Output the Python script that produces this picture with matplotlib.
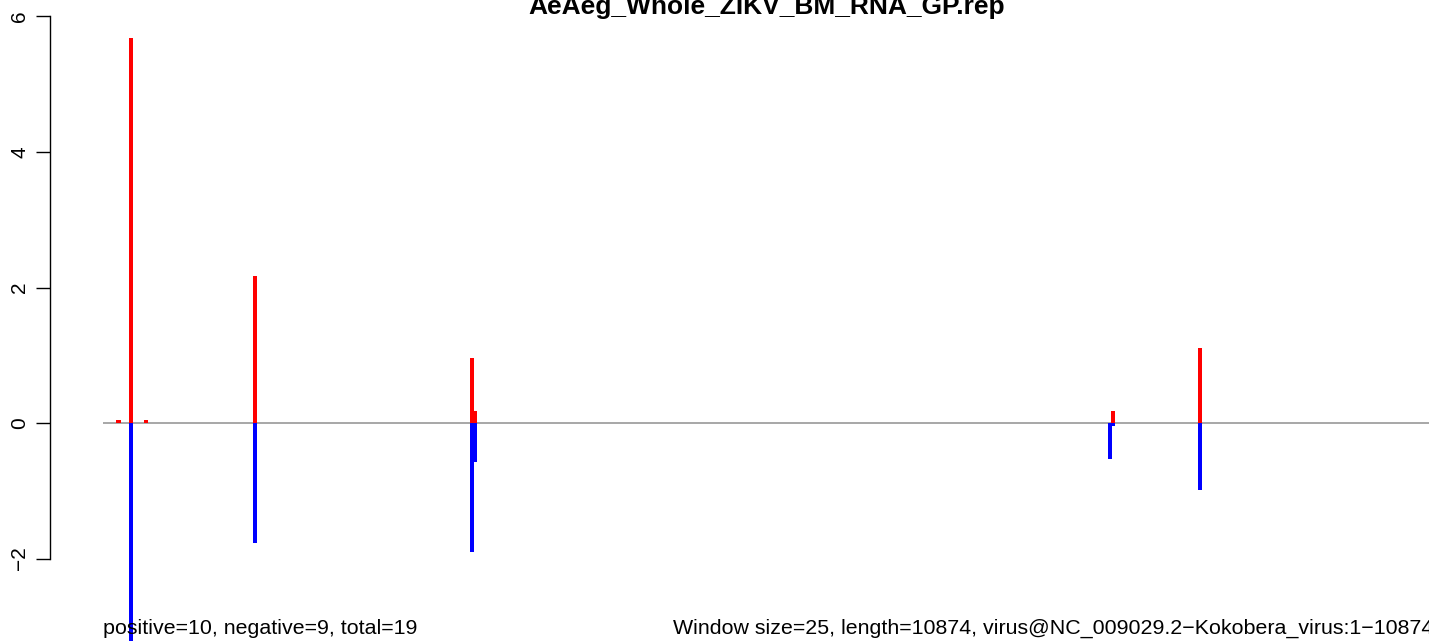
import matplotlib
matplotlib.use('Agg')
import matplotlib.pyplot as plt

plt.rcParams['font.family'] = ['Liberation Sans', 'DejaVu Sans']

title = 'AeAeg_Whole_ZIKV_BM_RNA_GP.rep'
left_note = 'positive=10, negative=9, total=19'
right_note = 'Window size=25, length=10874, virus@NC_009029.2\u2212Kokobera_virus:1\u221210874'

# window index of each bar and its score
pos_windows = [5, 9, 14, 49, 119, 120, 326, 354]
pos_values = [0.04, 5.68, 0.04, 2.17, 0.96, 0.18, 0.18, 1.11]
neg_windows = [9, 49, 119, 120, 325, 326, 354]
neg_values = [-3.3, -1.77, -1.90, -0.58, -0.53, -0.04, -0.99]

W, H = 1429, 641
fig = plt.figure(figsize=(W / 100, H / 100), dpi=100)
ax = fig.add_axes([103 / W, 0, (1435 - 103) / W, 1])
ax.set_xlim(0, 430)
ax.set_ylim(-218 / 67.75, 423 / 67.75)

ax.axhline(0, color='#a0a0a0', lw=1.3, zorder=1)
ax.bar(pos_windows, pos_values, width=1.3, color='red', linewidth=0, zorder=2)
ax.bar(neg_windows, neg_values, width=1.3, color='blue', linewidth=0, zorder=2)

for side in ['top', 'right', 'bottom']:
    ax.spines[side].set_visible(False)
ax.spines['left'].set_position(('outward', 38))
ax.spines['left'].set_bounds(-2, 6)
ax.spines['left'].set_linewidth(1.0)
ax.set_xticks([])
ax.set_yticks([-2, 0, 2, 4, 6])
ax.set_yticklabels(['\u22122', '0', '2', '4', '6'], rotation=90, va='center', fontsize=15)
ax.tick_params(axis='y', length=10, width=1.0, pad=5)

fig.text(767 / W, 1 - 14 / H, title, ha='center', va='baseline', fontsize=19, fontweight='bold')
fig.text(103 / W, 3 / H, left_note, ha='left', va='bottom', fontsize=15.4)
fig.text(1433 / W, 3 / H, right_note, ha='right', va='bottom', fontsize=15.4)

fig.savefig('out.png', dpi=100)
